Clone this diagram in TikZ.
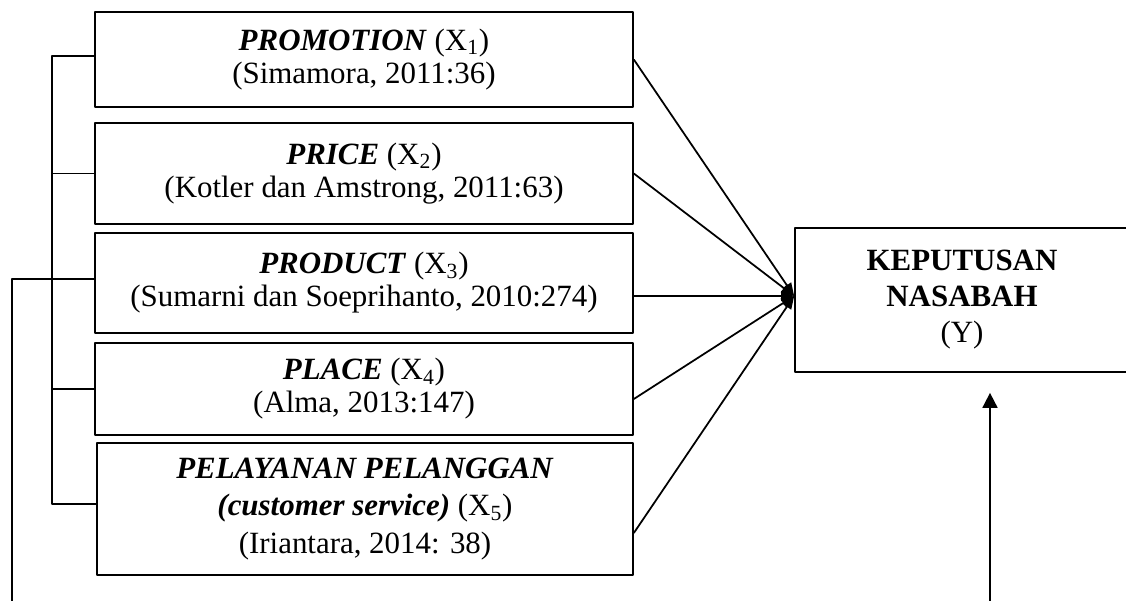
\documentclass[tikz,border=0pt]{standalone}
\usepackage{fontspec}
\setmainfont{Liberation Serif}
\usetikzlibrary{arrows.meta}

\begin{document}
\begin{tikzpicture}[x=0.02cm, y=-0.02cm,
                    line join=round,
                    link/.style={black, line width=1pt},
                    vector/.style={link,-{Triangle[length=0.26cm,width=0.2cm]}},
                    varbox/.style={draw, line width=1pt, align=center, inner sep=0pt,
                                   minimum width=10.76cm,
                                   font=\fontsize{17.6}{18.8}\selectfont}]
  \useasboundingbox (0,0) rectangle (1126,600);
  \def\vX#1{(X\textsubscript{#1})}

  % variables X1 ... X5
  \node[varbox, minimum height=1.9cm] (promotion) at (364,59.5)
    {\textbf{\textit{PROMOTION}} \vX1\\(Simamora, 2011:36)};
  \node[varbox, minimum height=2.02cm] (price) at (364,173.5)
    {\textbf{\textit{PRICE}} \vX2\\(Kotler dan Amstrong, 2011:63)};
  \node[varbox, minimum height=2.0cm] (product) at (364,283)
    {\textbf{\textit{PRODUCT}} \vX3\\(Sumarni dan Soeprihanto, 2010:274)};
  \node[varbox, minimum height=1.84cm] (place) at (364,389)
    {\textbf{\textit{PLACE}} \vX4\\(Alma, 2013:147)};
  \node[varbox, minimum width=10.72cm, minimum height=2.64cm,
        font=\fontsize{17.6}{21.6}\selectfont] (service) at (365,509)
    {\textbf{\textit{PELAYANAN PELANGGAN}}\\\textbf{\textit{(customer service)}} \vX5\\(Iriantara, 2014: 38)};

  % dependent variable
  \node[varbox, minimum width=6.68cm, minimum height=2.88cm,
        font=\fontsize{17.6}{20.5}\selectfont] (keputusan) at (962,300)
    {\textbf{KEPUTUSAN}\\\textbf{NASABAH}\\(Y)};

  % arrows into Y
  \coordinate (hub) at ([yshift=0.08cm]keputusan.west);
  \draw[vector] (promotion.east) -- (hub);
  \draw[vector] (price.east) -- (hub);
  \draw[vector] (product.east |- hub) -- (hub);
  \draw[vector] ([yshift=-0.2cm]place.east) -- (hub);
  \draw[vector] ([yshift=-0.48cm]service.east) -- (hub);

  % bracket on the left
  \coordinate (brk) at (52,0);
  \coordinate (promoin) at ([yshift=0.07cm]promotion.west);
  \coordinate (servin) at ([yshift=0.1cm]service.west);
  \draw[link] (promoin) -| (brk |- servin) -- (servin);
  \draw[link] (price.west) -- (price.west -| brk);
  \draw[link] (place.west) -- (place.west -| brk);

  % loop under the boxes
  \coordinate (loopl) at (12,605);
  \coordinate (loopr) at (990,605);
  \draw[link] ([yshift=0.08cm]product.west) -| (loopl);
  \draw[link,-{Triangle[length=0.3cm,width=0.3cm]},shorten >=0.4cm] (loopr) -- (keputusan.south -| loopr);
\end{tikzpicture}
\end{document}
